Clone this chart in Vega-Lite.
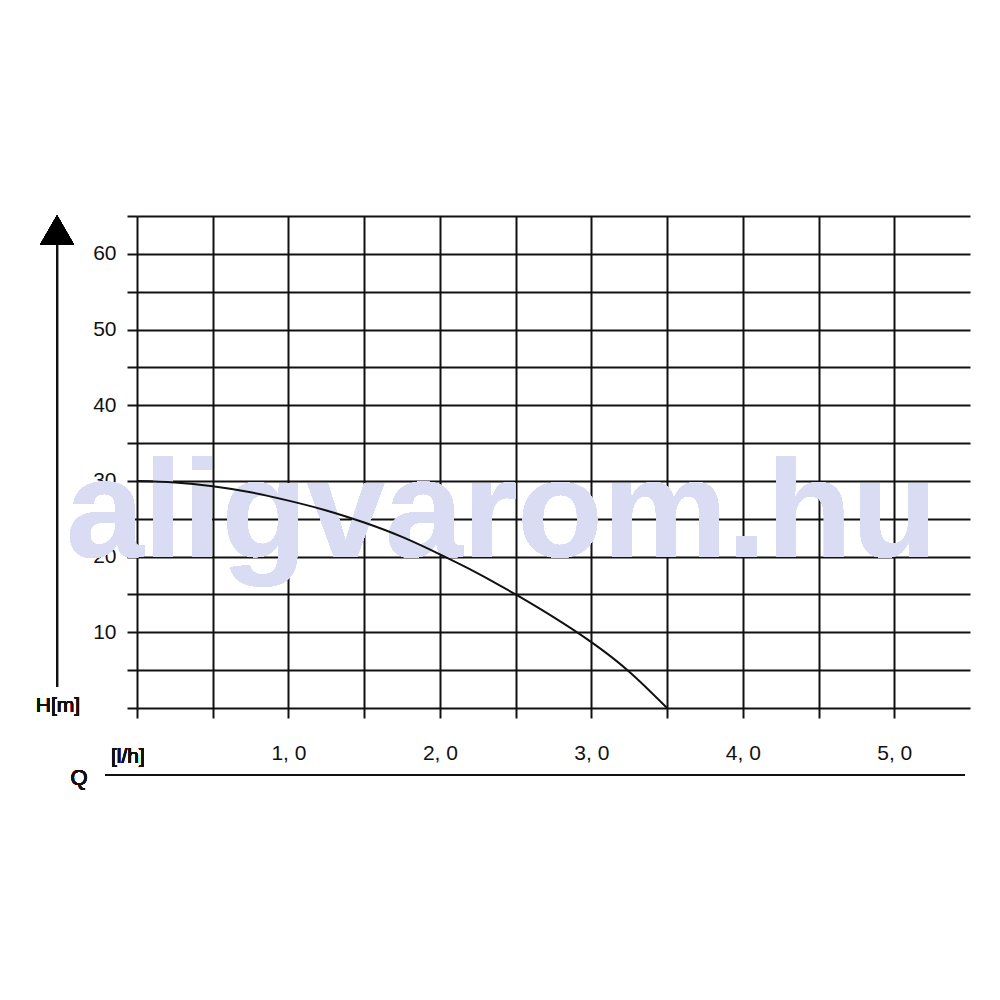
{
  "$schema": "https://vega.github.io/schema/vega-lite/v6.json",
  "width": 833,
  "height": 492,
  "autosize": {"type": "none"},
  "padding": {"left": 137, "top": 216, "right": 30, "bottom": 292},
  "background": "white",
  "config": {
    "view": {"stroke": null},
    "axis": {
      "domain": false,
      "grid": true,
      "gridColor": "#111111",
      "gridWidth": 2,
      "gridOpacity": 1,
      "tickColor": "#111111",
      "tickWidth": 2,
      "tickSize": 10,
      "labelFont": "Liberation Sans",
      "labelFontSize": 21,
      "labelColor": "#111111",
      "labelFlush": false,
      "labelOverlap": false,
      "zindex": 1
    },
    "axisX": {"labelPadding": 24},
    "axisY": {"labelPadding": 11}
  },
  "data": {
    "values": [
      {"Q": 0, "H": 30},
      {"Q": 0.25, "H": 29.8},
      {"Q": 0.5, "H": 29.3},
      {"Q": 0.75, "H": 28.5},
      {"Q": 1.0, "H": 27.4},
      {"Q": 1.25, "H": 26.1},
      {"Q": 1.5, "H": 24.5},
      {"Q": 1.75, "H": 22.6},
      {"Q": 2.0, "H": 20.3},
      {"Q": 2.25, "H": 17.8},
      {"Q": 2.5, "H": 15.0},
      {"Q": 2.75, "H": 12.0},
      {"Q": 3.0, "H": 8.7},
      {"Q": 3.25, "H": 4.8},
      {"Q": 3.5, "H": 0}
    ]
  },
  "layer": [
    {
      "mark": {"type": "text", "text": "aligvarom.hu", "font": "Liberation Sans", "fontWeight": "bold", "fontSize": 140, "color": "#d9dcf2", "align": "center", "baseline": "alphabetic"},
      "encoding": {
        "x": {"datum": 2.407, "type": "quantitative", "scale": {"domain": [0, 5.5], "nice": false, "zero": false}, "axis": {"title": null, "values": [0, 0.5, 1, 1.5, 2, 2.5, 3, 3.5, 4, 4.5, 5], "labelExpr": "datum.value >= 1 && datum.value % 1 == 0 ? replace(format(datum.value, '.1f'), '.', ', ') : ''"}},
        "y": {"datum": 19.95, "type": "quantitative", "scale": {"domain": [0, 65], "nice": false, "zero": false}, "axis": {"title": null, "values": [0, 5, 10, 15, 20, 25, 30, 35, 40, 45, 50, 55, 60, 65], "labelExpr": "datum.value > 0 && datum.value <= 60 && datum.value % 10 == 0 ? datum.value : ''"}}
      }
    },
    {
      "mark": {"type": "line", "color": "#111111", "strokeWidth": 2, "interpolate": "natural"},
      "encoding": {
        "x": {"field": "Q", "type": "quantitative", "scale": {"domain": [0, 5.5], "nice": false, "zero": false}, "axis": {"title": null, "values": [0, 0.5, 1, 1.5, 2, 2.5, 3, 3.5, 4, 4.5, 5], "labelExpr": "datum.value >= 1 && datum.value % 1 == 0 ? replace(format(datum.value, '.1f'), '.', ', ') : ''"}},
        "y": {"field": "H", "type": "quantitative", "scale": {"domain": [0, 65], "nice": false, "zero": false}, "axis": {"title": null, "values": [0, 5, 10, 15, 20, 25, 30, 35, 40, 45, 50, 55, 60, 65], "labelExpr": "datum.value > 0 && datum.value <= 60 && datum.value % 10 == 0 ? datum.value : ''"}}
      }
    },
    {
      "mark": {"type": "rule", "color": "#111111", "strokeWidth": 2},
      "encoding": {
        "x": {"datum": -0.211, "type": "quantitative", "scale": {"domain": [0, 5.5], "nice": false, "zero": false}, "axis": {"title": null, "values": [0, 0.5, 1, 1.5, 2, 2.5, 3, 3.5, 4, 4.5, 5], "labelExpr": "datum.value >= 1 && datum.value % 1 == 0 ? replace(format(datum.value, '.1f'), '.', ', ') : ''"}},
        "x2": {"datum": 5.467},
        "y": {"datum": -8.85, "type": "quantitative", "scale": {"domain": [0, 65], "nice": false, "zero": false}, "axis": {"title": null, "values": [0, 5, 10, 15, 20, 25, 30, 35, 40, 45, 50, 55, 60, 65], "labelExpr": "datum.value > 0 && datum.value <= 60 && datum.value % 10 == 0 ? datum.value : ''"}}
      }
    },
    {
      "mark": {"type": "rule", "color": "#111111", "strokeWidth": 2},
      "encoding": {
        "x": {"datum": -0.528, "type": "quantitative", "scale": {"domain": [0, 5.5], "nice": false, "zero": false}, "axis": {"title": null, "values": [0, 0.5, 1, 1.5, 2, 2.5, 3, 3.5, 4, 4.5, 5], "labelExpr": "datum.value >= 1 && datum.value % 1 == 0 ? replace(format(datum.value, '.1f'), '.', ', ') : ''"}},
        "y": {"datum": 2.77, "type": "quantitative", "scale": {"domain": [0, 65], "nice": false, "zero": false}, "axis": {"title": null, "values": [0, 5, 10, 15, 20, 25, 30, 35, 40, 45, 50, 55, 60, 65], "labelExpr": "datum.value > 0 && datum.value <= 60 && datum.value % 10 == 0 ? datum.value : ''"}},
        "y2": {"datum": 61.5}
      }
    },
    {
      "mark": {"type": "point", "shape": "triangle-up", "size": 1156, "filled": true, "color": "#000000", "opacity": 1},
      "encoding": {
        "x": {"datum": -0.528, "type": "quantitative", "scale": {"domain": [0, 5.5], "nice": false, "zero": false}, "axis": {"title": null, "values": [0, 0.5, 1, 1.5, 2, 2.5, 3, 3.5, 4, 4.5, 5], "labelExpr": "datum.value >= 1 && datum.value % 1 == 0 ? replace(format(datum.value, '.1f'), '.', ', ') : ''"}},
        "y": {"datum": 63.15, "type": "quantitative", "scale": {"domain": [0, 65], "nice": false, "zero": false}, "axis": {"title": null, "values": [0, 5, 10, 15, 20, 25, 30, 35, 40, 45, 50, 55, 60, 65], "labelExpr": "datum.value > 0 && datum.value <= 60 && datum.value % 10 == 0 ? datum.value : ''"}}
      }
    },
    {
      "mark": {"type": "text", "text": "H[m]", "font": "Liberation Sans", "fontSize": 21, "color": "#111111", "align": "center", "baseline": "middle"},
      "encoding": {
        "x": {"datum": -0.522, "type": "quantitative", "scale": {"domain": [0, 5.5], "nice": false, "zero": false}, "axis": {"title": null, "values": [0, 0.5, 1, 1.5, 2, 2.5, 3, 3.5, 4, 4.5, 5], "labelExpr": "datum.value >= 1 && datum.value % 1 == 0 ? replace(format(datum.value, '.1f'), '.', ', ') : ''"}},
        "y": {"datum": 0.2, "type": "quantitative", "scale": {"domain": [0, 65], "nice": false, "zero": false}, "axis": {"title": null, "values": [0, 5, 10, 15, 20, 25, 30, 35, 40, 45, 50, 55, 60, 65], "labelExpr": "datum.value > 0 && datum.value <= 60 && datum.value % 10 == 0 ? datum.value : ''"}}
      }
    },
    {
      "mark": {"type": "text", "text": "[l/h]", "font": "Liberation Sans", "fontSize": 21, "color": "#111111", "align": "center", "baseline": "middle"},
      "encoding": {
        "x": {"datum": -0.06, "type": "quantitative", "scale": {"domain": [0, 5.5], "nice": false, "zero": false}, "axis": {"title": null, "values": [0, 0.5, 1, 1.5, 2, 2.5, 3, 3.5, 4, 4.5, 5], "labelExpr": "datum.value >= 1 && datum.value % 1 == 0 ? replace(format(datum.value, '.1f'), '.', ', ') : ''"}},
        "y": {"datum": -6.47, "type": "quantitative", "scale": {"domain": [0, 65], "nice": false, "zero": false}, "axis": {"title": null, "values": [0, 5, 10, 15, 20, 25, 30, 35, 40, 45, 50, 55, 60, 65], "labelExpr": "datum.value > 0 && datum.value <= 60 && datum.value % 10 == 0 ? datum.value : ''"}}
      }
    },
    {
      "mark": {"type": "text", "text": "Q", "font": "Liberation Sans", "fontSize": 22, "color": "#111111", "align": "center", "baseline": "middle"},
      "encoding": {
        "x": {"datum": -0.383, "type": "quantitative", "scale": {"domain": [0, 5.5], "nice": false, "zero": false}, "axis": {"title": null, "values": [0, 0.5, 1, 1.5, 2, 2.5, 3, 3.5, 4, 4.5, 5], "labelExpr": "datum.value >= 1 && datum.value % 1 == 0 ? replace(format(datum.value, '.1f'), '.', ', ') : ''"}},
        "y": {"datum": -9.25, "type": "quantitative", "scale": {"domain": [0, 65], "nice": false, "zero": false}, "axis": {"title": null, "values": [0, 5, 10, 15, 20, 25, 30, 35, 40, 45, 50, 55, 60, 65], "labelExpr": "datum.value > 0 && datum.value <= 60 && datum.value % 10 == 0 ? datum.value : ''"}}
      }
    }
  ]
}
